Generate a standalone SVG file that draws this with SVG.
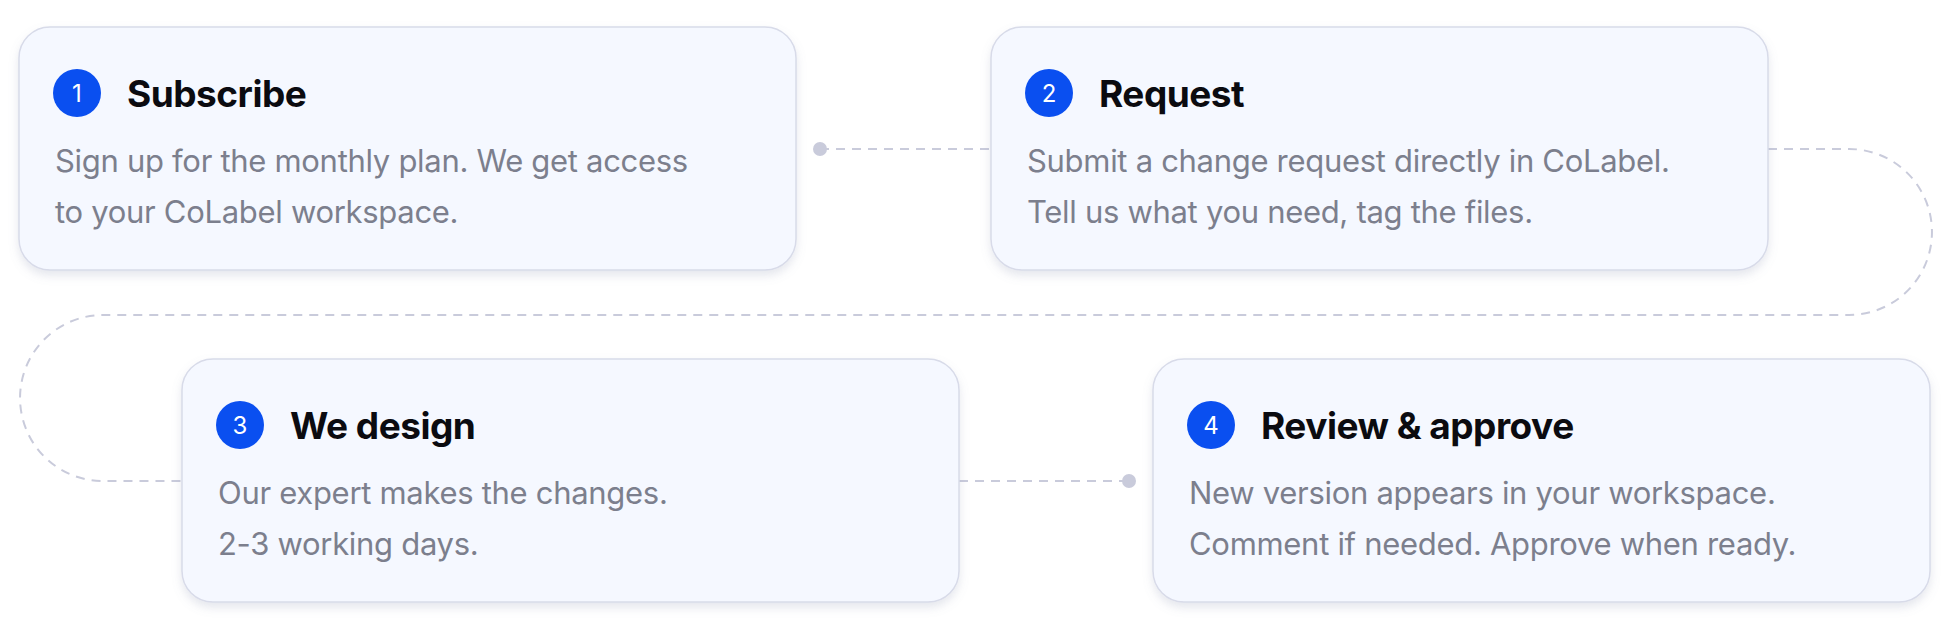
<svg xmlns="http://www.w3.org/2000/svg" width="1950" height="630" viewBox="0 0 1950 630">
<defs>
<filter id="sh" x="-5%" y="-10%" width="110%" height="130%">
<feDropShadow dx="0" dy="5" stdDeviation="5" flood-color="#8a90b0" flood-opacity="0.22"/>
</filter>
<style>
.card{fill:#f5f8ff;stroke:#d8dbe9;stroke-width:1.5;filter:url(#sh)}
.badge{fill:#0a4ff0}
.num{font-family:Inter,"Liberation Sans",sans-serif;font-size:24px;fill:#fff;text-anchor:middle}
.title{font-family:Inter,"Liberation Sans",sans-serif;font-size:37px;font-weight:700;fill:#0b0b10;letter-spacing:-0.5px}
.body{font-family:Inter,"Liberation Sans",sans-serif;font-size:31px;fill:#7c7f8d;letter-spacing:-0.3px}
.con{fill:none;stroke:#c9cbdb;stroke-width:2;stroke-dasharray:9 7}
.dot{fill:#c9cbdb}
</style>
</defs>
<rect width="1950" height="630" fill="#fff"/>
<g id="connectors">
<path class="con" d="M820 149 H991"/>
<circle class="dot" cx="820" cy="149" r="7"/>
<path class="con" d="M1768 149 H1849 A83 83 0 0 1 1849 315 H103 A83 83 0 0 0 103 481 H182"/>
<path class="con" d="M959 481 H1129"/>
<circle class="dot" cx="1129" cy="481" r="7"/>
</g>
<g id="node1">
<rect class="card" x="19" y="27" width="777" height="243" rx="31"/>
<circle class="badge" cx="77" cy="93" r="24"/>
<text class="num" x="77" y="102">1</text>
<text class="title" x="127" y="107">Subscribe</text>
<text class="body" x="55" y="172">Sign up for the monthly plan. We get access</text>
<text class="body" x="55" y="223">to your CoLabel workspace.</text>
</g>
<g id="node2">
<rect class="card" x="991" y="27" width="777" height="243" rx="31"/>
<circle class="badge" cx="1049" cy="93" r="24"/>
<text class="num" x="1049" y="102">2</text>
<text class="title" x="1099" y="107">Request</text>
<text class="body" x="1027" y="172">Submit a change request directly in CoLabel.</text>
<text class="body" x="1027" y="223">Tell us what you need, tag the files.</text>
</g>
<g id="node3">
<rect class="card" x="182" y="359" width="777" height="243" rx="31"/>
<circle class="badge" cx="240" cy="425" r="24"/>
<text class="num" x="240" y="434">3</text>
<text class="title" x="290" y="439">We design</text>
<text class="body" x="218" y="504">Our expert makes the changes.</text>
<text class="body" x="218" y="555">2-3 working days.</text>
</g>
<g id="node4">
<rect class="card" x="1153" y="359" width="777" height="243" rx="31"/>
<circle class="badge" cx="1211" cy="425" r="24"/>
<text class="num" x="1211" y="434">4</text>
<text class="title" x="1261" y="439">Review &amp; approve</text>
<text class="body" x="1189" y="504">New version appears in your workspace.</text>
<text class="body" x="1189" y="555">Comment if needed. Approve when ready.</text>
</g>
</svg>
